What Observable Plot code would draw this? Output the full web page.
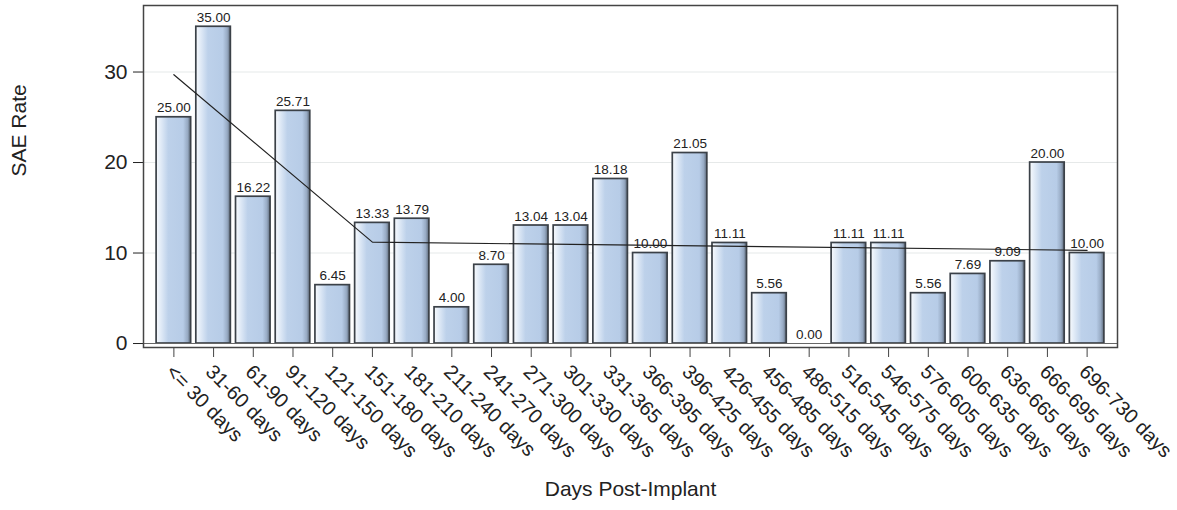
<!DOCTYPE html>
<html>
<head>
<meta charset="utf-8">
<script src="https://cdn.jsdelivr.net/npm/d3@7"></script>
<script src="https://cdn.jsdelivr.net/npm/@observablehq/plot@0.6"></script>
<style>
  html, body { margin: 0; padding: 0; background: #fff; }
  svg { font-family: "Liberation Sans", Arial, sans-serif; }
</style>
</head>
<body>
<div id="chart"></div>
<script>
const categories = ["<= 30 days","31-60 days","61-90 days","91-120 days","121-150 days","151-180 days","181-210 days","211-240 days","241-270 days","271-300 days","301-330 days","331-365 days","366-395 days","396-425 days","426-455 days","456-485 days","486-515 days","516-545 days","546-575 days","576-605 days","606-635 days","636-665 days","666-695 days","696-730 days"];
const rates = [25.00,35.00,16.22,25.71,6.45,13.33,13.79,4.00,8.70,13.04,13.04,18.18,10.00,21.05,11.11,5.56,0.00,11.11,11.11,5.56,7.69,9.09,20.00,10.00];
const trendCategories = ["<= 30 days","151-180 days","696-730 days"];
const trendValues = [29.7, 11.2, 10.3];
const yTicks = [0, 10, 20, 30];

const bars = categories.map((c, i) => ({cat: c, rate: rates[i]}));
const trend = trendCategories.map((c, i) => ({cat: c, rate: trendValues[i]}));

const defs = () => {
  const ns = "http://www.w3.org/2000/svg";
  const d = document.createElementNS(ns, "defs");
  const g = document.createElementNS(ns, "linearGradient");
  g.setAttribute("id", "barGrad");
  g.setAttribute("x1", "0"); g.setAttribute("x2", "1");
  g.setAttribute("y1", "0"); g.setAttribute("y2", "0");
  [["0%","#f8fafd"],["12%","#e4edf8"],["35%","#bdd1ea"],["78%","#b7cce7"],["91%","#97aac3"],["100%","#5c6878"]].forEach(([o,c]) => {
    const s = document.createElementNS(ns, "stop");
    s.setAttribute("offset", o); s.setAttribute("stop-color", c);
    g.appendChild(s);
  });
  d.appendChild(g);
  return d;
};

const chart = Plot.plot({
  width: 1177,
  height: 510,
  marginLeft: 143,
  marginRight: 60,
  marginTop: 5,
  marginBottom: 163,
  style: {fontFamily: "Liberation Sans, Arial, sans-serif", background: "#fff"},
  x: {type: "band", domain: categories, paddingInner: 0.13, paddingOuter: 0.33, round: false, label: null},
  y: {domain: [-0.44, 37.35], label: null},
  marks: [
    defs,
    Plot.ruleY([10, 20, 30], {stroke: "#e6e9e9", strokeWidth: 1.2}),
    Plot.barY(bars, {x: "cat", y1: 0, y2: "rate", fill: "url(#barGrad)", stroke: "#3b4148", strokeWidth: 1.7}),
    Plot.ruleY([0], {stroke: "#666", strokeWidth: 1.2}),
    Plot.line(trend, {x: "cat", y: "rate", stroke: "#222", strokeWidth: 1.2}),
    Plot.text(bars, {x: "cat", y: "rate", text: d => d.rate.toFixed(2), lineAnchor: "bottom", dy: -5, fontSize: 13.5, fill: "#222"}),
    Plot.axisY({ticks: yTicks, tickSize: 10, tickPadding: 6, fontSize: 21, color: "#222", label: null}),
    Plot.axisX({tickSize: 10, tickFormat: () => "", color: "#444", label: null}),
    Plot.text(categories, {x: d => d, frameAnchor: "bottom", rotate: 45, textAnchor: "start", dx: -9, dy: 25.5, fontSize: 20, fill: "#222"}),
    Plot.frame({stroke: "#444", strokeWidth: 1.5}),
    Plot.text(["Days Post-Implant"], {frameAnchor: "bottom", dy: 148, fontSize: 21, fill: "#222"}),
    Plot.text(["SAE Rate"], {frameAnchor: "left", dx: -124, rotate: -90, fontSize: 21, fill: "#222"})
  ]
});
document.getElementById("chart").appendChild(chart);
</script>
</body>
</html>
